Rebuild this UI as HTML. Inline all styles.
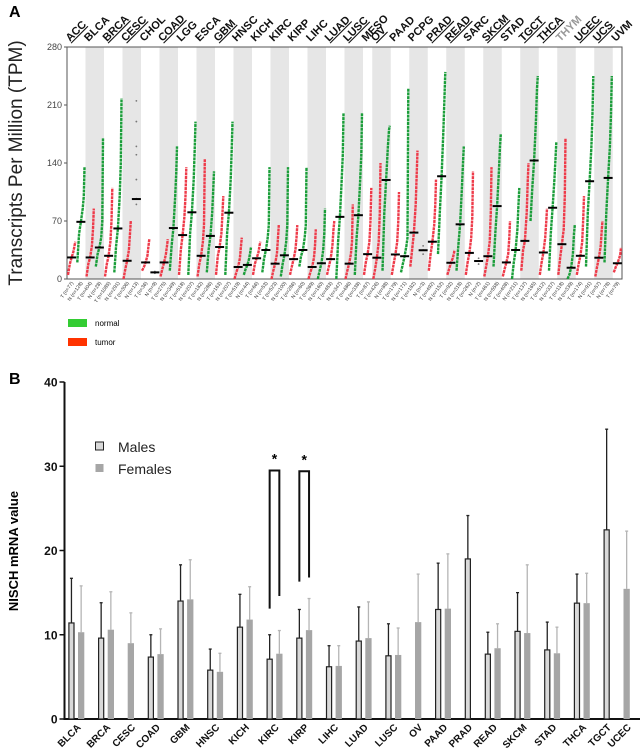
<!DOCTYPE html>
<html><head><meta charset="utf-8"><style>
html,body{margin:0;padding:0;background:#fff;}
svg{display:block;font-family:"Liberation Sans",Arial,sans-serif;}
</style></head><body>
<svg id="fig" width="644" height="753" viewBox="0 0 644 753" xmlns="http://www.w3.org/2000/svg">
<text x="9" y="17" font-size="16" font-weight="bold">A</text>
<text x="9" y="384" font-size="16" font-weight="bold">B</text>
<text transform="translate(22,163) rotate(-90)" text-anchor="middle" font-size="19" fill="#222">Transcripts Per Million (TPM)</text>
<text transform="translate(18,551) rotate(-90)" text-anchor="middle" font-size="13" font-weight="bold">NISCH mRNA value</text>
<g id="ga"></g>
<g id="gb"></g>
<rect x="68" y="319" width="19" height="8" fill="#33cc33"/>
<text x="95" y="326" font-size="8">normal</text>
<rect x="68" y="338" width="19" height="8" fill="#ff3300"/>
<text x="95" y="345" font-size="8">tumor</text>
<rect x="95.5" y="442" width="8" height="8" fill="#d9d9d9" stroke="#222" stroke-width="1"/>
<text x="118" y="452" font-size="14" fill="#222">Males</text>
<rect x="95.5" y="464" width="8" height="8" fill="#a6a6a6"/>
<text x="118" y="474" font-size="14" fill="#222">Females</text>
</svg>
<script>
// ---------- Panel A data ----------
const cancersA = ["ACC","BLCA","BRCA","CESC","CHOL","COAD","LGG","ESCA","GBM","HNSC","KICH","KIRC","KIRP","LIHC","LUAD","LUSC","MESO","OV","PAAD","PCPG","PRAD","READ","SARC","SKCM","STAD","TGCT","THCA","THYM","UCEC","UCS","UVM"];
const underlinedA = ["ACC","BRCA","CESC","COAD","GBM","LUAD","LUSC","OV","PRAD","READ","SKCM","TGCT","THCA","UCEC","UCS"];
// tumor quantiles [min,q25,median,q75,q90,max]
const tumorQ = [[5,18,26,33,40,45],[3,18,26,40,60,85],[3,18,28,45,70,110],[0,12,22,35,55,70],[10,14,20,28,40,48],[3,12,20,30,40,48],[5,35,53,75,100,135],[3,18,28,45,65,145],[5,28,38.6,55,80,100],[0,8,14.5,25,40,50],[5,18,25,32,40,45],[0,10,18.5,30,50,65],[5,15,24,35,50,65],[0,8,14.5,25,40,60],[5,15,24,40,60,70],[0,10,18.5,30,45,90],[5,20,30,45,70,110],[0,12,25.7,45,80,140],[5,18,29.6,45,70,105],[15,35,56,90,130,155],[10,30,45,65,90,120],[5,12,19.6,25,30,35],[5,20,31.5,50,75,130],[3,15,27.5,45,80,135],[3,12,20,30,50,70],[10,35,46,80,120,140],[5,20,32,50,70,85],[5,25,42,60,100,170],[5,18,28,45,75,100],[3,15,25.7,40,60,70],[8,14,19,25,30,38]];
// normal quantiles (null = small-n group, "none" = no normal column)
const normalQ = [[20,55,69,85,100,135],[15,30,38,50,70,170],[8,40,61,100,140,218],null,null,[10,40,61.5,100,130,160],[5,55,80.5,120,160,190],[8,35,52,80,110,130],[5,55,80,120,160,190],[5,12,17,25,33,38],[8,25,35,50,65,135],[3,18,28.6,45,65,135],[15,28,35,50,65,135],[0,10,19,35,55,85],[0,45,75,120,150,200],[5,50,77,120,150,200],"none",[10,80,119.5,160,180,185],[8,18,27.5,40,50,230],null,[30,80,124,180,220,250],[10,40,66,110,140,160],null,[15,55,88,130,160,175],[0,20,35,60,90,110],[70,110,143,190,230,245],[10,55,86,120,145,165],[0,5,13.6,30,55,65],[15,80,118,160,200,245],[20,80,122,160,200,245],"none"];
const smallNormalVals = {CESC:[90,97,120,150,160,190,215],CHOL:[7,8,9],PCPG:[30,35,40],SARC:[18,21.7,25]};
const smallNormalMed = {CESC:96.5,CHOL:8,PCPG:34.7,SARC:21.7};
const tumorN = [77,404,1085,306,36,275,518,182,163,519,66,523,286,369,483,486,87,426,179,182,492,92,262,461,408,137,512,118,174,57,79];
const normalN = [128,28,291,13,9,349,207,286,207,44,53,100,60,160,347,338,0,88,171,3,152,318,2,558,211,165,337,339,91,78,0];
const yTicksA = [0,70,140,210,280];

// ---------- Panel B data ----------
const cancersB = ["BLCA","BRCA","CESC","COAD","GBM","HNSC","KICH","KIRC","KIRP","LIHC","LUAD","LUSC","OV","PAAD","PRAD","READ","SKCM","STAD","THCA","TGCT","UCEC"];
const maleMean = [11.4,9.6,null,7.35,14.0,5.8,10.9,7.1,9.6,6.2,9.25,7.5,null,13.0,19.0,7.7,10.4,8.2,13.75,22.45,null];
const maleErr = [16.7,13.8,null,10.0,18.3,8.3,14.8,10.0,13.0,8.7,13.3,11.3,null,18.5,24.15,10.3,15.0,11.5,17.2,34.4,null];
const femaleMean = [10.3,10.6,9.0,7.7,14.2,5.6,11.8,7.75,10.55,6.3,9.6,7.6,11.5,13.1,null,8.4,10.2,7.8,13.75,null,15.45];
const femaleErr = [15.8,15.1,12.6,10.7,18.9,7.8,15.7,10.5,14.3,8.7,13.9,10.8,17.2,19.6,null,11.3,18.3,10.9,17.3,null,22.3];
const yTicksB = [0,10,20,30,40];
const sigCats = ["KIRC","KIRP"];
const sigTop = [29.5,29.4];
const sigLeftBottom = [13.1,16.3];
const sigRightBottom = [14.6,16.8];

const NS = "http://www.w3.org/2000/svg";
function mk(tag, attrs, parent){const e=document.createElementNS(NS,tag);for(const k in attrs)e.setAttribute(k,attrs[k]);parent.appendChild(e);return e;}

// ---------- Panel A ----------
(function(){
  const g=document.getElementById('ga');
  const L=67,R=622,T=47,B=279;
  const colW=(R-L)/60;
  const yA=v=>B-(v/280)*(B-T);
  const cols=[];let c=0;const spans=[];
  cancersA.forEach((name,i)=>{
    const start=c;
    cols.push({name,i,kind:'T',col:c});c++;
    if(normalQ[i]!=="none"){cols.push({name,i,kind:'N',col:c});c++;}
    spans.push([start,c]);
  });
  cancersA.forEach((name,i)=>{
    const sp=spans[i];
    if(i%2===1){
      const r=mk('rect',{x:L+sp[0]*colW,y:T,width:(sp[1]-sp[0])*colW,height:B-T,fill:'#e6e6e6'},g);
      
      
    }
  });
  const fr=mk('rect',{x:L,y:T,width:R-L,height:B-T,fill:'none',stroke:'#555','stroke-width':1},g);
  
  
  yTicksA.forEach(v=>{
    const t=mk('text',{x:L-5,y:yA(v)+3,'text-anchor':'end','font-size':9,fill:'#444'},g);
    t.textContent=v;
    
    
    mk('line',{x1:L-3,x2:L,y1:yA(v),y2:yA(v),stroke:'#555'},g);
  });
  const fr2=[0,0.25,0.5,0.75,0.9,1];
  cols.forEach(cc=>{
    const x0=L+cc.col*colW, xc=x0+colW/2;
    let med=null;
    if(cc.kind==='T'){
      const q=tumorQ[cc.i];
      const pts=q.map((v,k)=>(x0+1+fr2[k]*(colW-2)).toFixed(1)+','+yA(v).toFixed(1)).join(' ');
      const p=mk('polyline',{points:pts,fill:'none',stroke:'#ee3b4a','stroke-width':2.4,'stroke-dasharray':'3 0.7','stroke-linejoin':'round'},g);
      
      
      med=q[2];
    } else {
      const nq=normalQ[cc.i];
      if(nq===null){
        smallNormalVals[cc.name].forEach(v=>{
          const d=mk('circle',{cx:xc,cy:yA(v),r:0.9,fill:'#777'},g);
          
          
        });
        med=smallNormalMed[cc.name];
      } else {
        const pts=nq.map((v,k)=>(x0+1+fr2[k]*(colW-2)).toFixed(1)+','+yA(v).toFixed(1)).join(' ');
        const p=mk('polyline',{points:pts,fill:'none',stroke:'#1b9e3a','stroke-width':2.4,'stroke-dasharray':'3 0.7','stroke-linejoin':'round'},g);
        
        
        med=nq[2];
      }
    }
    const m=mk('line',{x1:xc-4.5,x2:xc+4.5,y1:yA(med),y2:yA(med),stroke:'#000','stroke-width':2},g);
    
    
    const n=cc.kind==='T'?tumorN[cc.i]:normalN[cc.i];
    const lt=mk('text',{transform:`translate(${xc+2},${B+4}) rotate(-55)`,'text-anchor':'end','font-size':5,fill:'#333'},g);
    lt.textContent=cc.kind+' (n='+n+')';
    
    
  });
  cancersA.forEach((name,i)=>{
    const sp=spans[i];
    const x=L+sp[0]*colW+3;
    const t=mk('text',{transform:`translate(${x},${T-5}) rotate(-45)`,'font-size':11,'font-weight':'bold',fill:name==='THYM'?'#999':'#111'},g);
    t.textContent=name;
    if(underlinedA.includes(name))t.setAttribute('text-decoration','underline');
    
    
  });
})();

// ---------- Panel B ----------
(function(){
  const g=document.getElementById('gb');
  const AX=64.5,B0=719,TOP=382;
  const yB=v=>B0-(v/40)*(B0-TOP);
  const bw=6.3, inGap=3.4, grpGap=13.7;
  const ya=mk('line',{x1:AX,x2:AX,y1:TOP,y2:B0+1,stroke:'#111','stroke-width':2},g);
  
  
  const xa=mk('line',{x1:AX-1,x2:640,y1:B0,y2:B0,stroke:'#111','stroke-width':2},g);
  
  
  yTicksB.forEach(v=>{
    mk('line',{x1:AX-5,x2:AX,y1:yB(v),y2:yB(v),stroke:'#111','stroke-width':1.5},g);
    const t=mk('text',{x:AX-7,y:yB(v)+4.5,'text-anchor':'end','font-size':12,'font-weight':'bold',fill:'#111'},g);
    t.textContent=v;
    
    
  });
  let x=68.3;
  const centers={};
  cancersB.forEach((name,i)=>{
    const bars=[];
    if(maleMean[i]!==null)bars.push({sex:'male',v:maleMean[i],e:maleErr[i]});
    if(femaleMean[i]!==null)bars.push({sex:'female',v:femaleMean[i],e:femaleErr[i]});
    const gs=x;
    bars.forEach((b,k)=>{
      const xc=x+bw/2;
      const ec=b.sex==='male'?'#222':'#b5b5b5';
      const el=mk('line',{x1:xc,x2:xc,y1:yB(b.v),y2:yB(b.e),stroke:ec,'stroke-width':1.3},g);
      
      
      mk('line',{x1:xc-1.5,x2:xc+1.5,y1:yB(b.e),y2:yB(b.e),stroke:ec,'stroke-width':1.3},g);
      let r;
      if(b.sex==='male') r=mk('rect',{x:x+0.6,y:yB(b.v),width:bw-1.2,height:B0-yB(b.v),fill:'#d9d9d9',stroke:'#222','stroke-width':1.2},g);
      else r=mk('rect',{x:x,y:yB(b.v),width:bw,height:B0-yB(b.v),fill:'#a6a6a6'},g);
      
      
      x+=bw;
      if(k<bars.length-1)x+=inGap;
    });
    centers[name]={l:gs,r:x};
    const t=mk('text',{transform:`translate(${(gs+x)/2+5},${B0+9}) rotate(-45)`,'text-anchor':'end','font-size':10,'font-weight':'bold',fill:'#111'},g);
    t.textContent=name;
    
    
    x+=grpGap;
  });
  sigCats.forEach((name,i)=>{
    const c=centers[name];
    const xl=c.l+bw/2, xr=c.r-bw/2;
    const p=mk('path',{d:`M${xl},${yB(sigLeftBottom[i])} V${yB(sigTop[i])} H${xr} V${yB(sigRightBottom[i])}`,fill:'none',stroke:'#111','stroke-width':2},g);
    
    
    const s=mk('text',{x:(xl+xr)/2,y:yB(sigTop[i])-7,'text-anchor':'middle','font-size':14,'font-weight':'bold'},g);
    s.textContent='*';
    
    
  });
})();
</script>
</body></html>
